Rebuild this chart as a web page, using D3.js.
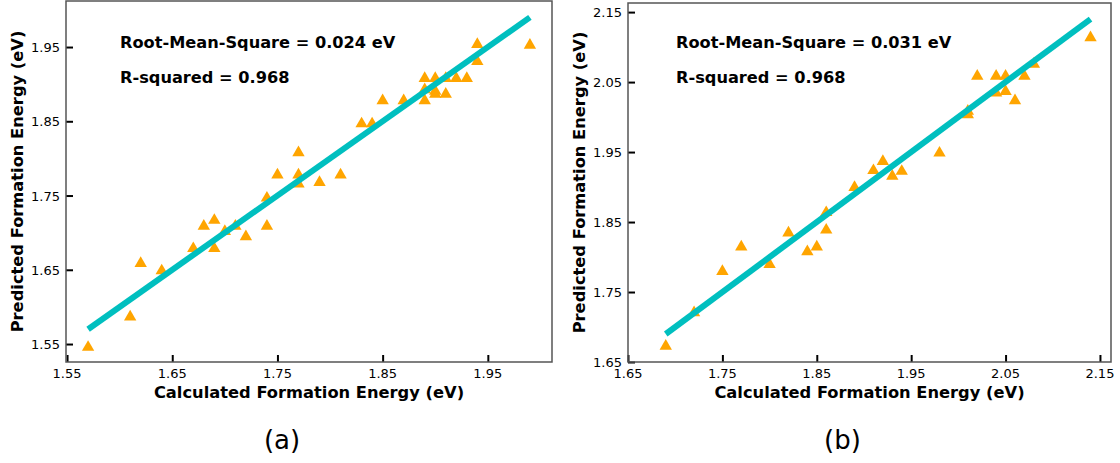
<!DOCTYPE html>
<html>
<head>
<meta charset="utf-8">
<script src="https://cdn.jsdelivr.net/npm/d3@7"></script>
<style>
  body { margin: 0; background: #fff; }
  svg { display: block; font-family: "DejaVu Sans", sans-serif; }
</style>
</head>
<body>
<svg width="1120" height="463"></svg>
<script>
// panel (a) : calculated vs predicted
const calcA = [1.57, 1.61, 1.62, 1.64, 1.67, 1.68, 1.69, 1.69, 1.70, 1.71, 1.72, 1.74, 1.74,
  1.75, 1.77, 1.77, 1.77, 1.79, 1.81, 1.83, 1.84, 1.85, 1.87, 1.89, 1.89, 1.89,
  1.90, 1.90, 1.90, 1.91, 1.91, 1.92, 1.93, 1.94, 1.94, 1.99];
const predA = [1.547, 1.588, 1.66, 1.65, 1.68, 1.71, 1.718, 1.68, 1.703, 1.71, 1.696, 1.748, 1.71,
  1.779, 1.809, 1.779, 1.767, 1.769, 1.779, 1.848, 1.848, 1.879, 1.879, 1.909, 1.894, 1.879,
  1.909, 1.892, 1.888, 1.909, 1.888, 1.909, 1.909, 1.955, 1.932, 1.954];

// panel (b)
const calcB = [1.69, 1.72, 1.75, 1.77, 1.80, 1.82, 1.84, 1.85, 1.86, 1.86, 1.89, 1.91, 1.92,
  1.93, 1.94, 1.98, 2.01, 2.01, 2.02, 2.04, 2.04, 2.05, 2.05, 2.06, 2.07, 2.08, 2.14];
const predB = [1.674, 1.722, 1.781, 1.816, 1.791, 1.836, 1.809, 1.816, 1.865, 1.84, 1.901, 1.925, 1.938,
  1.917, 1.924, 1.950, 2.010, 2.005, 2.060, 2.060, 2.036, 2.060, 2.038, 2.025, 2.060, 2.077, 2.115];

const ticksA = [1.55, 1.65, 1.75, 1.85, 1.95];
const ticksB = [1.65, 1.75, 1.85, 1.95, 2.05, 2.15];
const fitA = [1.57, 1.99];
const fitB = [1.69, 2.14];

const svg = d3.select('svg');

function panel(cfg) {
  const x = d3.scaleLinear().domain(cfg.xd).range([cfg.l, cfg.r]);
  const y = d3.scaleLinear().domain(cfg.yd).range([cfg.b, cfg.t]);
  const g = svg.append('g');

  // ticks pointing inward
  const xAxis = d3.axisTop(x).tickValues(cfg.ticks).tickSize(7).tickFormat('');
  const yAxis = d3.axisRight(y).tickValues(cfg.ticks).tickSize(7).tickFormat('');
  g.append('g').attr('transform', `translate(0,${cfg.b})`).call(xAxis)
    .call(a => a.select('.domain').remove())
    .selectAll('line').attr('stroke', '#000').attr('stroke-width', 2);
  g.append('g').attr('transform', `translate(${cfg.l},0)`).call(yAxis)
    .call(a => a.select('.domain').remove())
    .selectAll('line').attr('stroke', '#000').attr('stroke-width', 2);

  // tick labels
  g.selectAll('.xl').data(cfg.ticks).enter().append('text')
    .attr('x', d => x(d)).attr('y', cfg.b + 16)
    .attr('text-anchor', 'middle').attr('font-size', 13)
    .text(d => d.toFixed(2));
  g.selectAll('.yl').data(cfg.ticks).enter().append('text')
    .attr('x', cfg.l - 6).attr('y', d => y(d) + 5)
    .attr('text-anchor', 'end').attr('font-size', 13)
    .text(d => d.toFixed(2));

  // frame
  g.append('rect').attr('x', cfg.l).attr('y', cfg.t)
    .attr('width', cfg.r - cfg.l).attr('height', cfg.b - cfg.t)
    .attr('fill', 'none').attr('stroke', '#555').attr('stroke-width', 1.5);

  // points
  const pts = cfg.cx.map((v, i) => ({c: v, p: cfg.py[i]}));
  g.selectAll('.pt').data(pts).enter().append('path')
    .attr('d', d3.symbol(d3.symbolTriangle, 66))
    .attr('transform', d => `translate(${x(d.c)},${y(d.p) + 1})`)
    .attr('fill', '#ffa500');

  // y = x line
  g.append('line')
    .attr('x1', x(cfg.fit[0])).attr('y1', y(cfg.fit[0]))
    .attr('x2', x(cfg.fit[1])).attr('y2', y(cfg.fit[1]))
    .attr('stroke', '#00bfbf').attr('stroke-width', 6);

  // annotations
  g.append('text').attr('x', cfg.annX).attr('y', 48)
    .attr('font-size', 16.2).attr('font-weight', 'bold').text(cfg.rms);
  g.append('text').attr('x', cfg.annX).attr('y', 83)
    .attr('font-size', 16.2).attr('font-weight', 'bold').text(cfg.r2);

  // axis titles
  const cx = (cfg.l + cfg.r) / 2;
  g.append('text').attr('x', cx).attr('y', 398)
    .attr('text-anchor', 'middle').attr('font-size', 16.3).attr('font-weight', 'bold')
    .text('Calculated Formation Energy (eV)');
  g.append('text')
    .attr('transform', `translate(${cfg.l - 43},${(cfg.t + cfg.b) / 2}) rotate(-90)`)
    .attr('text-anchor', 'middle').attr('font-size', 16.3).attr('font-weight', 'bold')
    .text('Predicted Formation Energy (eV)');

  // caption
  g.append('text').attr('x', cx - 27).attr('y', 449)
    .attr('text-anchor', 'middle').attr('font-size', 26)
    .text(cfg.label);
}

panel({
  l: 66, r: 552, t: 1, b: 362,
  xd: [1.549, 2.011], yd: [1.5258, 2.012],
  ticks: ticksA, cx: calcA, py: predA, fit: fitA,
  annX: 120, rms: 'Root-Mean-Square = 0.024 eV', r2: 'R-squared = 0.968', label: '(a)'
});
panel({
  l: 628, r: 1111, t: 3, b: 362,
  xd: [1.65, 2.1617], yd: [1.65, 2.163],
  ticks: ticksB, cx: calcB, py: predB, fit: fitB,
  annX: 676, rms: 'Root-Mean-Square = 0.031 eV', r2: 'R-squared = 0.968', label: '(b)'
});
</script>
</body>
</html>
